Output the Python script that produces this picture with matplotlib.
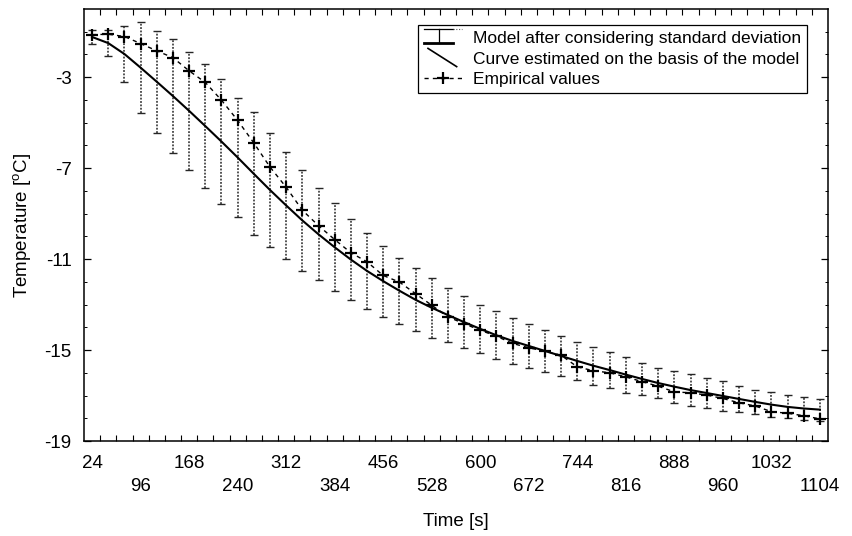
import matplotlib
matplotlib.use("Agg")
import matplotlib.pyplot as plt
from matplotlib.lines import Line2D
from matplotlib.legend_handler import HandlerBase
from matplotlib.ticker import FixedLocator

plt.rcParams['font.family'] = ['Liberation Sans', 'DejaVu Sans']
plt.rcParams['mathtext.default'] = 'regular'
plt.rcParams['axes.unicode_minus'] = False

# ---- data ----
time_s = [24, 48, 72, 96, 120, 144, 168, 192, 216, 240, 264, 288, 312, 336, 360,
          384, 408, 432, 456, 480, 504, 528, 552, 576, 600, 624, 648, 672, 696,
          720, 744, 768, 792, 816, 840, 864, 888, 912, 936, 960, 984, 1008, 1032,
          1056, 1080, 1104]

model_curve = [-1.23, -1.50, -1.98, -2.58, -3.20, -3.83, -4.48, -5.15, -5.83, -6.53,
               -7.25, -7.96, -8.64, -9.30, -9.91, -10.48, -11.02, -11.52, -11.97,
               -12.39, -12.79, -13.14, -13.46, -13.77, -14.07, -14.35, -14.60, -14.82,
               -15.04, -15.26, -15.48, -15.69, -15.88, -16.08, -16.27, -16.45, -16.61,
               -16.76, -16.89, -17.02, -17.15, -17.28, -17.40, -17.50, -17.57, -17.62]

std_dev = [0.29, 0.56, 1.22, 2.01, 2.24, 2.51, 2.60, 2.73, 2.73, 2.63, 2.71, 2.49,
           2.36, 2.24, 2.03, 1.94, 1.77, 1.67, 1.56, 1.45, 1.39, 1.31, 1.19, 1.13,
           1.07, 1.06, 1.00, 0.95, 0.91, 0.88, 0.83, 0.83, 0.80, 0.79, 0.71, 0.66,
           0.71, 0.69, 0.66, 0.64, 0.59, 0.53, 0.54, 0.51, 0.49, 0.48]

empirical = [-1.13, -1.11, -1.21, -1.52, -1.84, -2.14, -2.72, -3.23, -4.01, -4.90,
             -5.89, -6.95, -7.84, -8.85, -9.53, -10.14, -10.72, -11.12, -11.72,
             -12.01, -12.52, -13.03, -13.54, -13.84, -14.13, -14.39, -14.71, -14.90,
             -15.05, -15.23, -15.74, -15.91, -16.00, -16.18, -16.39, -16.59, -16.84,
             -16.88, -16.98, -17.13, -17.32, -17.46, -17.71, -17.78, -17.89, -18.03]

x_tick_values = [24, 96, 168, 240, 312, 384, 456, 528, 600, 672, 744, 816, 888,
                 960, 1032, 1104]
y_tick_values = [-19, -15, -11, -7, -3]

labels = ["Model after considering standard deviation",
          "Curve estimated on the basis of the model",
          "Empirical values"]


class HandlerDiagonal(HandlerBase):
    def create_artists(self, legend, orig_handle, xdescent, ydescent,
                       width, height, fontsize, trans):
        ln = Line2D([-xdescent + 0.1 * width, -xdescent + 0.85 * width],
                    [-ydescent + 1.25 * height, -ydescent - 0.25 * height],
                    color='black', lw=1.2, transform=trans)
        return [ln]


class HandlerStd(HandlerBase):
    def create_artists(self, legend, orig_handle, xdescent, ydescent,
                       width, height, fontsize, trans):
        x0 = -xdescent
        y0 = -ydescent
        yb = y0 + 0.05 * height
        yt = y0 + 1.2 * height
        xc = x0 + 0.5 * width
        base = Line2D([x0, x0 + 0.75 * width], [yb, yb], color='black', lw=2.0,
                      transform=trans)
        stem = Line2D([xc - 0.1 * width, xc - 0.1 * width], [yb, yt], color='black',
                      lw=0.9, transform=trans)
        cap = Line2D([x0, x0 + 0.75 * width], [yt, yt], color='black', lw=0.9,
                     transform=trans)
        tail = Line2D([x0 + 0.75 * width, x0 + width], [yt, yt], color='#555555',
                      lw=0.8, linestyle=(0, (1, 1.5)), transform=trans)
        return [base, stem, cap, tail]


W, H = 852, 536
fig = plt.figure(figsize=(W / 100, H / 100), dpi=100)
L, R, T, B = 84, 828, 9, 441
ax = fig.add_axes([L / W, 1 - B / H, (R - L) / W, (B - T) / H])

eb = ax.errorbar(time_s, model_curve, yerr=std_dev, fmt='none', ecolor='#262626',
                 elinewidth=1.1, capsize=3, capthick=1.0, zorder=2)
for lc in eb[2]:
    lc.set_linestyle((0, (1.2, 1.0)))
curve, = ax.plot(time_s, model_curve, color='black', lw=1.5, zorder=3)
emp, = ax.plot(time_s, empirical, color='black', lw=1.0, linestyle=(0, (3, 3)),
               marker='+', markersize=9, markeredgewidth=1.6, zorder=4)

ax.set_xlim(12, 1116)
ax.set_ylim(-19, 0)

ax.set_xticks(x_tick_values)
ax.set_xticklabels([str(v) if i % 2 == 0 else "\n" + str(v)
                    for i, v in enumerate(x_tick_values)])
for lbl in ax.get_xticklabels():
    lbl.set_linespacing(1.45)
ax.xaxis.set_minor_locator(FixedLocator([12 + 24 * k for k in range(1, 46)]))
ax.tick_params(axis='x', which='major', length=0, pad=10, labelsize=13.5)
ax.tick_params(axis='x', which='minor', direction='in', length=4, width=0.8,
               top=True, bottom=True)

ax.set_yticks(y_tick_values)
ax.yaxis.set_minor_locator(FixedLocator(list(range(-18, 0))))
ax.tick_params(axis='y', which='major', direction='in', length=5, width=0.9,
               left=True, right=True, pad=9, labelsize=13.5)
ax.tick_params(axis='y', which='minor', direction='in', length=2.5, width=0.7,
               left=True, right=True)

for sp in ax.spines.values():
    sp.set_linewidth(1.1)

ax.set_xlabel("Time [s]", fontsize=13.5, labelpad=13)
ax.set_ylabel("Temperature [$^{o}$C]", fontsize=13.5, labelpad=8)

leg = ax.legend([eb, curve, emp], labels, loc='upper right',
                bbox_to_anchor=((807 - L) / (R - L), (B - 25) / (B - T)),
                borderaxespad=0, fontsize=12.5, frameon=True, fancybox=False,
                edgecolor='black', framealpha=1, handlelength=2.2,
                handletextpad=0.6, borderpad=0.35, labelspacing=0.3,
                handler_map={curve: HandlerDiagonal(), eb: HandlerStd()})
leg.get_frame().set_linewidth(0.9)

fig.savefig("out.png", dpi=100)
